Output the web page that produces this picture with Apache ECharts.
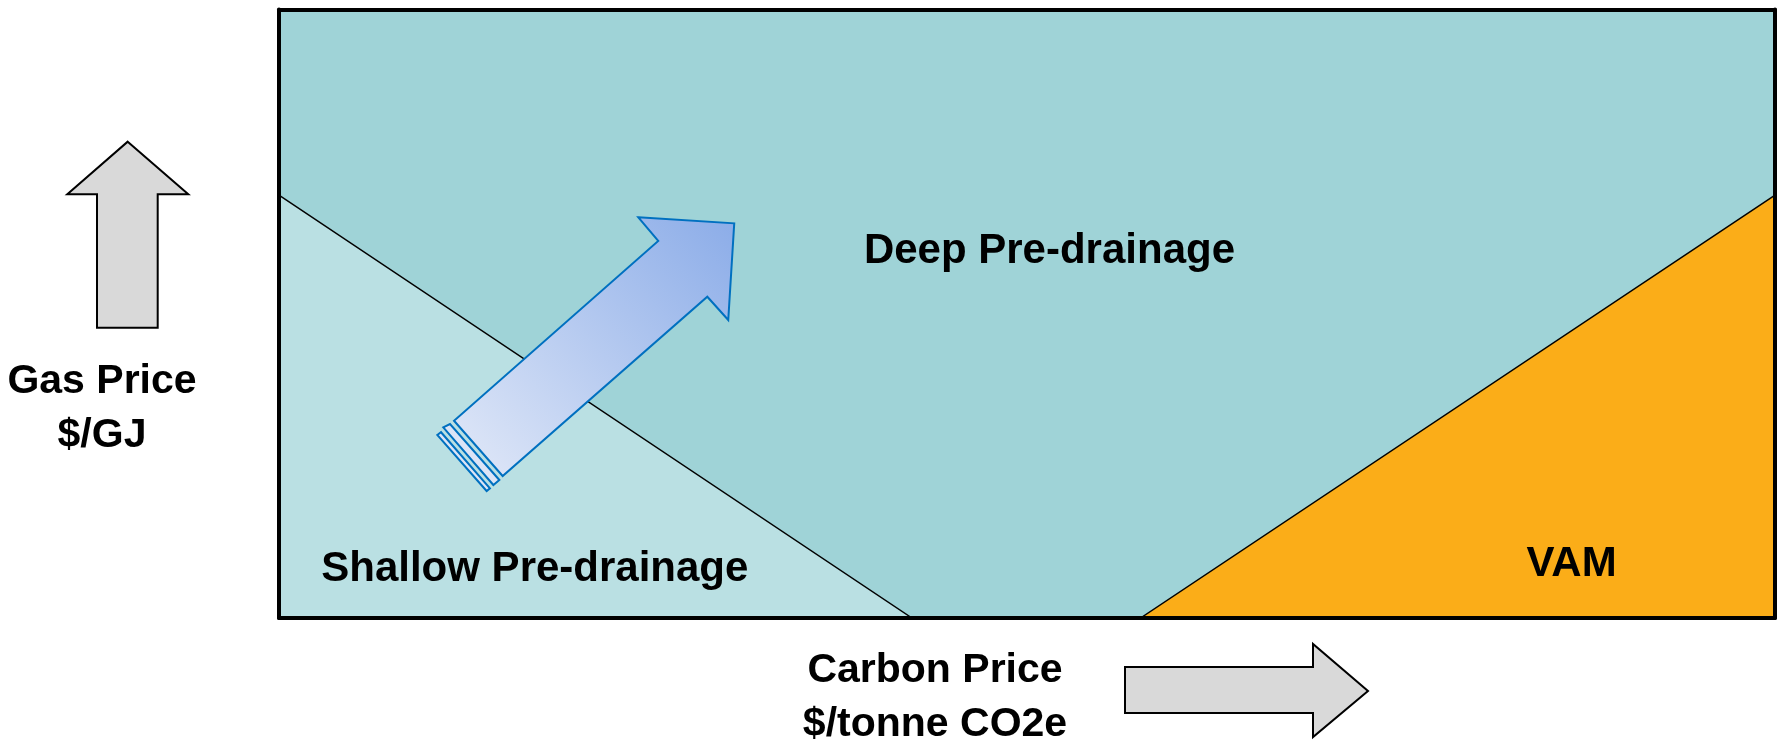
<!DOCTYPE html>
<html>
<head>
<meta charset="utf-8">
<script src="https://cdn.jsdelivr.net/npm/echarts@6/dist/echarts.min.js"></script>
<style>
html,body{margin:0;padding:0;background:#fff;}
#chart{width:1777px;height:748px;}
</style>
</head>
<body>
<div id="chart"></div>
<script>
// Axis ranges (conceptual: carbon price on x, gas price on y)
const xRange = [0, 100];
const yRange = [0, 100];

// Region polygons (data units)
const shallowRegion = [[0, 0], [0, 69.5], [42.3, 0]];
const vamRegion = [[57.6, 0], [100, 0], [100, 69.5]];
const deepRegion = [[0, 69.5], [0, 100], [100, 100], [100, 69.5], [57.6, 0], [42.3, 0]];

// Region labels
const regionNames = ['Deep Pre-drainage', 'Shallow Pre-drainage', 'VAM'];
const regionLabelPos = [[51.5, 60.3], [17.1, 8.0], [86.4, 8.8]];

// Trend arrow (data units)
const trendArrow = [[24.02, 65.85], [30.43, 64.86], [30.03, 48.97], [28.63, 52.80], [14.95, 23.34], [11.70, 32.42], [25.35, 61.96]];
const trendStripe1 = [[10.98, 31.34], [11.43, 31.88], [14.73, 22.68], [14.33, 21.86]];
const trendStripe2 = [[10.58, 30.07], [10.83, 30.53], [14.10, 21.32], [13.88, 20.87]];

// Axis titles
const yTitle = 'Gas Price\n$/GJ';
const xTitle = 'Carbon Price\n$/tonne CO2e';

const chart = echarts.init(document.getElementById('chart'));

function polySeries(name, pts, fill, stroke, lw, z) {
  return {
    type: 'custom',
    name: name,
    z: z,
    data: pts,
    silent: true,
    renderItem: function (params, api) {
      if (params.dataIndex !== 0) return null;
      return {
        type: 'polygon',
        shape: { points: pts.map(p => api.coord(p)) },
        style: { fill: fill, stroke: stroke, lineWidth: lw }
      };
    }
  };
}

const FONT = '"Liberation Sans", Arial, sans-serif';

const arrowGradient = new echarts.graphic.LinearGradient(0, 1, 1, 0, [
  { offset: 0, color: '#E2E9F8' },
  { offset: 1, color: '#8BACE8' }
]);

const axisLineStyle = { show: true, onZero: false, lineStyle: { color: '#000', width: 4 } };

function axis(pos, range) {
  return { type: 'value', min: range[0], max: range[1], position: pos, z: 20,
    axisLine: axisLineStyle, axisTick: { show: false }, axisLabel: { show: false }, splitLine: { show: false } };
}

const option = {
  backgroundColor: '#ffffff',
  animation: false,
  grid: { left: 279, top: 9.5, width: 1496, height: 608.5, containLabel: false },
  xAxis: [axis('bottom', xRange), axis('top', xRange)],
  yAxis: [axis('left', yRange), axis('right', yRange)],
  series: [
    polySeries('Deep Pre-drainage', deepRegion, '#9FD3D7', 'none', 0, 2),
    polySeries('Shallow Pre-drainage', shallowRegion, '#BAE0E3', '#000', 1.5, 3),
    polySeries('VAM', vamRegion, '#FBAD18', '#000', 1.5, 3),
    polySeries('Trend', trendArrow, arrowGradient, '#0070C0', 2, 5),
    polySeries('Stripe1', trendStripe1, '#DCE4F6', '#0070C0', 2, 5),
    polySeries('Stripe2', trendStripe2, '#DCE4F6', '#0070C0', 2, 5),
    {
      type: 'custom',
      name: 'labels',
      z: 6,
      silent: true,
      data: regionLabelPos.map((p, i) => [p[0], p[1], i]),
      renderItem: function (params, api) {
        const c = api.coord([api.value(0), api.value(1)]);
        return {
          type: 'text',
          x: c[0], y: c[1],
          style: {
            text: regionNames[api.value(2)],
            fill: '#000',
            font: 'bold 42px ' + FONT,
            textAlign: 'center',
            textVerticalAlign: 'middle'
          }
        };
      }
    }
  ],
  graphic: [
    { type: 'polygon', z: 10,
      shape: { points: [[127.7, 141.7], [188.3, 194.3], [157.7, 194.3], [157.7, 327.7], [97, 327.7], [97, 194.3], [67.3, 194.3]] },
      style: { fill: '#D9D9D9', stroke: '#000', lineWidth: 2 } },
    { type: 'polygon', z: 10,
      shape: { points: [[1125, 667], [1313, 667], [1313, 644], [1368, 691], [1313, 737], [1313, 713], [1125, 713]] },
      style: { fill: '#D9D9D9', stroke: '#000', lineWidth: 2 } },
    { type: 'text', z: 10, x: 102, y: 409,
      style: { text: yTitle, fill: '#000', font: 'bold 41px ' + FONT, lineHeight: 54, textAlign: 'center', textVerticalAlign: 'middle' } },
    { type: 'text', z: 10, x: 935, y: 698,
      style: { text: xTitle, fill: '#000', font: 'bold 41px ' + FONT, lineHeight: 54, textAlign: 'center', textVerticalAlign: 'middle' } }
  ]
};

chart.setOption(option);
</script>
</body>
</html>
